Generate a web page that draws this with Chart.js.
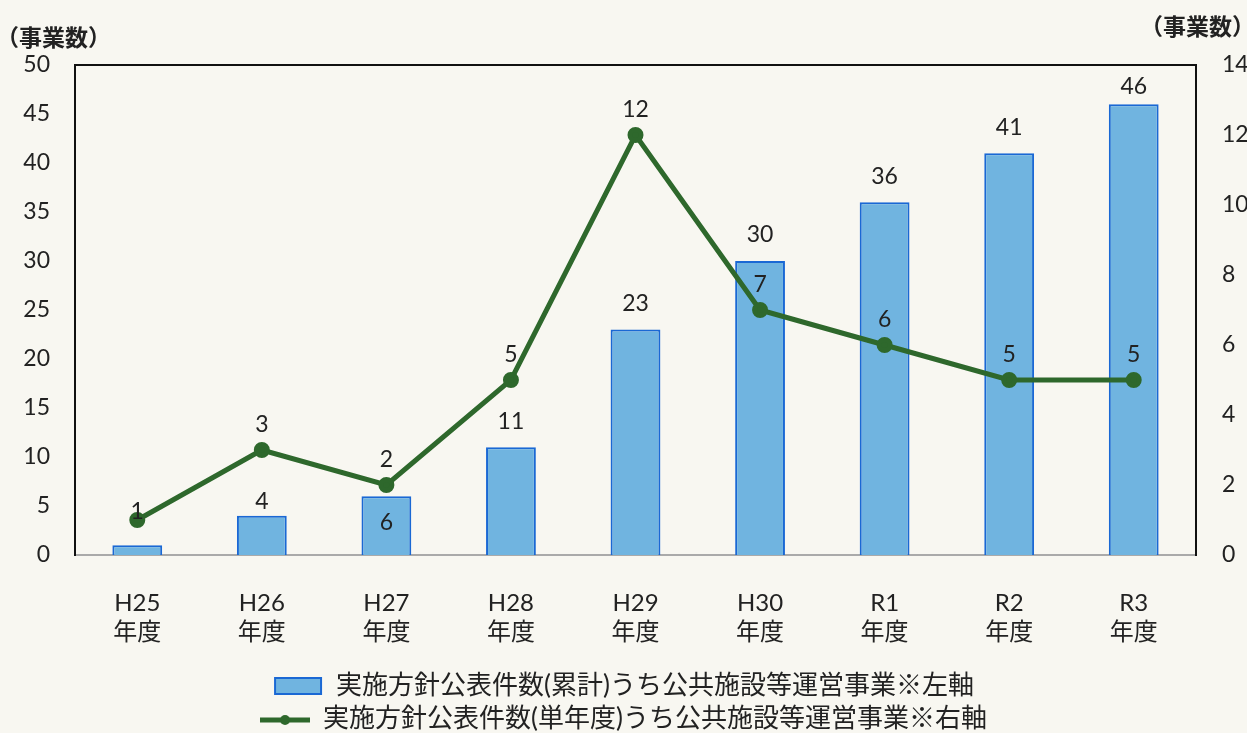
<!DOCTYPE html>
<html><head><meta charset="utf-8">
<script src="https://cdn.jsdelivr.net/npm/chart.js@4.4.1/dist/chart.umd.min.js"></script>
<style>html,body{margin:0;padding:0;background:#f8f7f1;}#wrap{width:1247px;height:733px;}</style>
</head><body><div id="wrap"><canvas id="c" width="1247" height="733"></canvas></div>
<script>
const categories = ['H25','H26','H27','H28','H29','H30','R1','R2','R3'];
const cumulativeValues = [1, 4, 6, 11, 23, 30, 36, 41, 46];
const singleYearValues = [1, 3, 2, 5, 12, 7, 6, 5, 5];
const leftTicks = [0,5,10,15,20,25,30,35,40,45,50];
const rightTicks = [0,2,4,6,8,10,12,14];
const unitLabel = '（事業数）';
const legendBar = '実施方針公表件数(累計)うち公共施設等運営事業※左軸';
const legendLine = '実施方針公表件数(単年度)うち公共施設等運営事業※右軸';

const FONT = "Lato, 'Noto Sans CJK JP', sans-serif";
const TXT = '#222';
const BAR_FILL = 'rgb(112,180,224)';
const BAR_BORDER = 'rgb(26,104,212)';
const GREEN = 'rgb(46,104,44)';

function icon(kind){
  const c = document.createElement('canvas'); c.width = 50; c.height = 20;
  const x = c.getContext('2d');
  if(kind==='bar'){
    x.fillStyle = BAR_FILL; x.fillRect(2,2,46,16);
    x.strokeStyle = BAR_BORDER; x.lineWidth = 2; x.strokeRect(2,2,46,16);
  } else {
    x.strokeStyle = GREEN; x.lineWidth = 5; x.beginPath(); x.moveTo(0,11); x.lineTo(50,11); x.stroke();
    x.fillStyle = GREEN; x.beginPath(); x.arc(25,11,5,0,Math.PI*2); x.fill();
  }
  return c;
}
const barIcon = icon('bar'), lineIcon = icon('line');

const bgPlugin = {id:'bg', beforeDraw(ch){const c=ch.ctx;c.save();c.fillStyle='#f8f7f1';c.fillRect(0,0,ch.width,ch.height);c.restore();}};
const framePlugin = {id:'frame', afterDraw(ch){
  const a = ch.chartArea, c = ch.ctx; c.save();
  c.strokeStyle = '#111'; c.lineWidth = 2;
  c.beginPath(); c.moveTo(a.left, a.top); c.lineTo(a.right, a.top); c.stroke();
  c.fillStyle = TXT; c.font = "bold 23px 'Noto Sans CJK JP', sans-serif"; c.textBaseline = 'middle';
  c.textAlign = 'left'; c.fillText(unitLabel, -4, 37);
  c.textAlign = 'right'; c.fillText(unitLabel, 1255, 26);
  c.restore();
}};
const barLabelShift = {0:null, 1:-14, 2:26, 8:-18};
const labelPlugin = {id:'vals', afterDatasetsDraw(ch){
  const c = ch.ctx; c.save(); c.fillStyle = TXT; c.font = '23px ' + FONT; c.textAlign = 'center'; c.textBaseline = 'middle';
  const mb = ch.getDatasetMeta(0);
  mb.data.forEach((el,i)=>{
    const off = (i in barLabelShift) ? barLabelShift[i] : -26;
    if(off===null) return;
    c.fillText(String(cumulativeValues[i]), el.x, el.y + off);
  });
  const ml = ch.getDatasetMeta(1);
  ml.data.forEach((el,i)=>{
    const off = i===0 ? -8 : -25;
    c.fillText(String(singleYearValues[i]), el.x, el.y + off);
  });
  c.restore();
}};

new Chart(document.getElementById('c'), {
  data: {
    labels: categories.map(k => [k, '年度']),
    datasets: [
      {type:'bar', label: legendBar, data: cumulativeValues, yAxisID:'y', backgroundColor: BAR_FILL, borderColor: BAR_BORDER, borderWidth: 2, barPercentage: 0.4, categoryPercentage: 1, order: 2},
      {type:'line', label: legendLine, data: singleYearValues, yAxisID:'y1', borderColor: GREEN, backgroundColor: GREEN, borderWidth: 5, pointRadius: 5.5, pointBackgroundColor: GREEN, pointBorderColor: GREEN, tension: 0, order: 1}
    ]
  },
  options: {
    responsive: false, animation: false, devicePixelRatio: 1,
    layout: {padding: {top: 65, left: 0, right: 0, bottom: -9}},
    plugins: {
      tooltip: {enabled: false},
      legend: {
        position: 'bottom', align: 'center',
        labels: {
          color: TXT, font: {family: FONT, size: 26}, usePointStyle: true, pointStyleWidth: 50, boxHeight: 20, padding: 7,
          generateLabels: () => [
            {text: legendBar, pointStyle: barIcon, datasetIndex: 0, fontColor: TXT, lineWidth: 0},
            {text: legendLine, pointStyle: lineIcon, datasetIndex: 1, fontColor: TXT, lineWidth: 0}
          ]
        }
      }
    },
    scales: {
      x: {
        grid: {display: false, drawTicks: false},
        border: {display: true, color: '#aaa', width: 2},
        ticks: {color: TXT, font: {family: FONT, size: 24}, padding: 34, maxRotation: 0},
        afterFit: s => { s.height = 111; }
      },
      y: {
        position: 'left', min: 0, max: 50,
        afterBuildTicks: s => { s.ticks = leftTicks.map(v => ({value: v})); },
        grid: {display: false, drawTicks: false},
        border: {display: true, color: '#111', width: 2},
        ticks: {color: TXT, font: {family: FONT, size: 23}, padding: 25},
        afterFit: s => { s.width = 75; }
      },
      y1: {
        position: 'right', min: 0, max: 14,
        afterBuildTicks: s => { s.ticks = rightTicks.map(v => ({value: v})); },
        grid: {display: false, drawTicks: false},
        border: {display: true, color: '#111', width: 2},
        ticks: {color: TXT, font: {family: FONT, size: 23}, padding: 26},
        afterFit: s => { s.width = 51; }
      }
    }
  },
  plugins: [bgPlugin, framePlugin, labelPlugin]
});
</script></body></html>
